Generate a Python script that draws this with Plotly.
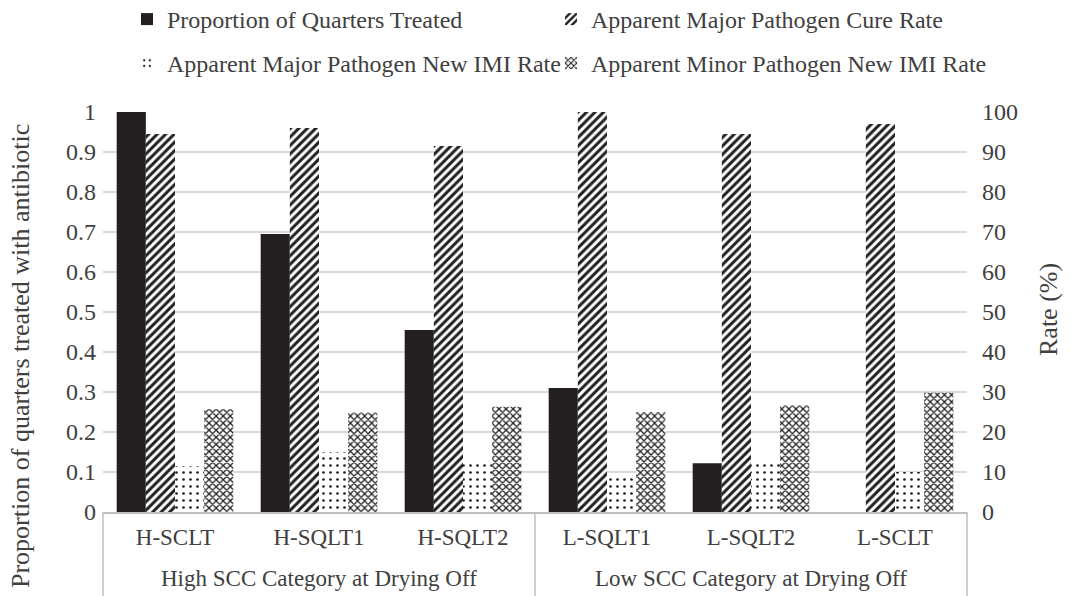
import plotly.graph_objects as go
from plotly.subplots import make_subplots

groups = ["High SCC Category at Drying Off", "Low SCC Category at Drying Off"]
categories = ["H-SCLT", "H-SQLT1", "H-SQLT2", "L-SQLT1", "L-SQLT2", "L-SCLT"]

prop_treated = [1.0, 0.695, 0.455, 0.31, 0.122, 0.0]
major_cure = [94.5, 96.0, 91.5, 100.0, 94.5, 97.0]
major_new_imi = [11.5, 15.0, 13.0, 8.5, 13.0, 10.0]
minor_new_imi = [25.7, 24.9, 26.3, 25.0, 26.7, 29.8]

names = ["Proportion of Quarters Treated", "Apparent Major Pathogen Cure Rate",
         "Apparent Major Pathogen New IMI Rate", "Apparent Minor Pathogen New IMI Rate"]

FONT = "Liberation Serif"
TXT = "#404040"
INK = "#231f20"
BOX = "#bfbfbf"

W, H = 1071, 596
L, R, T, B = 103, 104, 112, 84
PH = H - T - B
PW = W - L - R


def py(p):
    """pixel row -> paper y"""
    return (H - B - p) / PH


def px(p):
    """pixel column -> paper x"""
    return (p - L) / PW


fig = make_subplots(specs=[[{"secondary_y": True}]])

fig.add_trace(go.Bar(x=categories, y=prop_treated, name=names[0], offsetgroup="a",
                     marker=dict(color=INK, line=dict(width=0)), legend="legend",
                     showlegend=True),
              secondary_y=False)
fig.add_trace(go.Bar(x=categories, y=major_cure, name=names[1], offsetgroup="b",
                     marker=dict(color="white", line=dict(width=0),
                                 pattern=dict(shape="/", fgcolor=INK, bgcolor="white", fgopacity=1,
                                              size=6, solidity=0.5, fillmode="replace")),
                     legend="legend2", showlegend=True),
              secondary_y=True)
fig.add_trace(go.Bar(x=categories, y=major_new_imi, name=names[2], offsetgroup="c",
                     marker=dict(color="white", line=dict(width=0),
                                 pattern=dict(shape=".", fgcolor=INK, bgcolor="white", fgopacity=1,
                                              size=7, solidity=0.12, fillmode="replace")),
                     legend="legend3", showlegend=True),
              secondary_y=True)
fig.add_trace(go.Bar(x=categories, y=minor_new_imi, name=names[3], offsetgroup="d",
                     marker=dict(color="white", line=dict(width=0),
                                 pattern=dict(shape="x", fgcolor=INK, bgcolor="white", fgopacity=1,
                                              size=5, solidity=0.45, fillmode="replace")),
                     legend="legend4", showlegend=True),
              secondary_y=True)

leg_common = dict(orientation="v", xref="container", yref="paper",
                  xanchor="left", yanchor="top", visible=True,
                  font=dict(family=FONT, size=24, color=TXT), itemclick=False,
                  bgcolor="rgba(0,0,0,0)")

annotations = [
    dict(text=groups[0], x=0.25, y=py(578), xref="paper", yref="paper", showarrow=False,
         xanchor="center", yanchor="middle", font=dict(family=FONT, size=23, color=TXT)),
    dict(text=groups[1], x=0.75, y=py(578), xref="paper", yref="paper", showarrow=False,
         xanchor="center", yanchor="middle", font=dict(family=FONT, size=23, color=TXT)),
    dict(text="Proportion of quarters treated with antibiotic", x=px(20), y=py(356),
         xref="paper", yref="paper", showarrow=False, textangle=-90,
         xanchor="center", yanchor="middle", font=dict(family=FONT, size=26, color=TXT)),
    dict(text="Rate (%)", x=px(1048), y=py(310),
         xref="paper", yref="paper", showarrow=False, textangle=-90,
         xanchor="center", yanchor="middle", font=dict(family=FONT, size=26, color=TXT)),
]

shapes = [
    dict(type="line", xref="paper", yref="paper", x0=xv, x1=xv, y0=0, y1=py(H),
         line=dict(color=BOX, width=1.5))
    for xv in (0, 0.5, 1)
]

fig.update_layout(
    width=W, height=H,
    showlegend=True,
    margin=dict(l=L, r=R, t=T, b=B, autoexpand=False),
    paper_bgcolor="white", plot_bgcolor="white",
    barmode="group", bargap=0.19, bargroupgap=0,
    font=dict(family=FONT, size=23, color=TXT),
    legend=dict(x=127 / W, y=py(-3), **leg_common),
    legend2=dict(x=551 / W, y=py(-3), **leg_common),
    legend3=dict(x=127 / W, y=py(41), **leg_common),
    legend4=dict(x=551 / W, y=py(41), **leg_common),
    annotations=annotations,
    shapes=shapes,
)

fig.update_xaxes(type="category", domain=[0, 1], showline=True, linecolor=BOX, linewidth=1.5,
                 ticks="", automargin=False, ticklabelstandoff=4,
                 tickfont=dict(family=FONT, size=23, color=TXT), showgrid=False)
fig.update_yaxes(range=[0, 1], dtick=0.1, showgrid=True, gridcolor="#d9d9d9", gridwidth=2,
                 zeroline=False, showline=False, ticks="", automargin=False, ticklabelstandoff=6,
                 tickfont=dict(family=FONT, size=24, color=TXT),
                 secondary_y=False)
fig.update_yaxes(range=[0, 100], dtick=10, showgrid=False, zeroline=False, showline=False,
                 ticks="", automargin=False, ticklabelstandoff=14,
                 tickfont=dict(family=FONT, size=24, color=TXT),
                 secondary_y=True)

fig.write_html("out.html", config={"displayModeBar": False},
               post_script="document.body.style.margin='0px';")
